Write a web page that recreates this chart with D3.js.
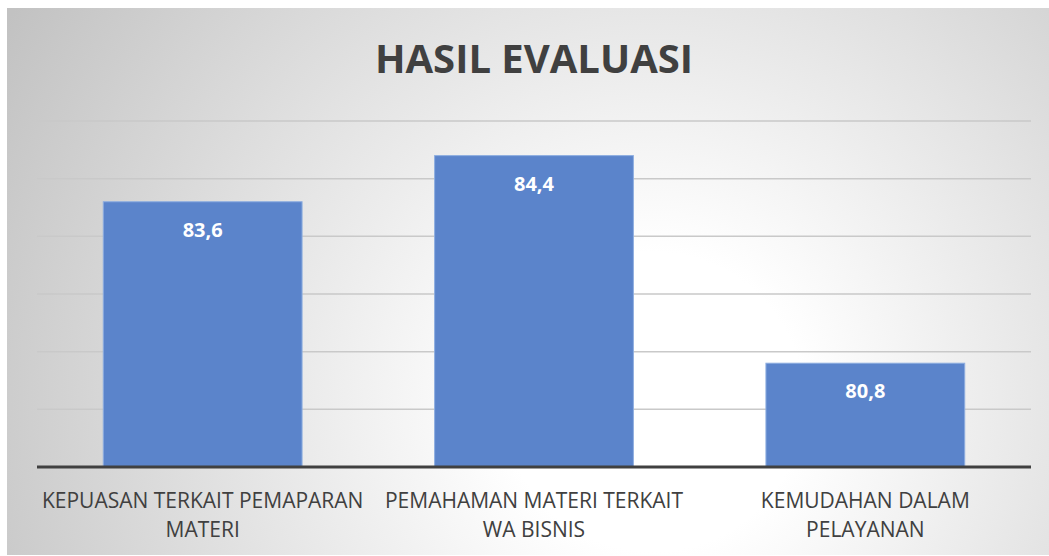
<!DOCTYPE html>
<html>
<head>
<meta charset="utf-8">
<script src="https://cdn.jsdelivr.net/npm/d3@7"></script>
<style>
  body { margin: 0; background: #fff; }
  svg { display: block; font-family: "Open Sans", "Liberation Sans", sans-serif; }
</style>
</head>
<body>
<svg id="chart" width="1049" height="556"></svg>
<script>
// data
const categories = [
  ["KEPUASAN TERKAIT PEMAPARAN", "MATERI"],
  ["PEMAHAMAN MATERI TERKAIT", "WA BISNIS"],
  ["KEMUDAHAN DALAM", "PELAYANAN"]
];
const values = [83.6, 84.4, 80.8];
const valueLabels = ["83,6", "84,4", "80,8"];
const yTicks = [79, 80, 81, 82, 83, 84, 85];

const svg = d3.select("#chart");
const width = 1049;
const height = 556;

// background gradient
const defs = svg.append("defs");
const grad = defs.append("radialGradient")
  .attr("id", "bg")
  .attr("cx", "0.62").attr("cy", "0.72")
  .attr("r", "0.72")
  .attr("gradientTransform", "translate(0.62,0.72) scale(1,1.9) translate(-0.62,-0.72)");
grad.append("stop").attr("offset", "0%").attr("stop-color", "#ffffff");
grad.append("stop").attr("offset", "20%").attr("stop-color", "#ffffff");
grad.append("stop").attr("offset", "100%").attr("stop-color", "#c2c2c2");

svg.append("rect")
  .attr("x", 7).attr("y", 8)
  .attr("width", width - 7).attr("height", 547)
  .attr("fill", "url(#bg)");

const margin = { left: 37, right: 18, top: 121, bottom: 89 };
const x = d3.scaleBand()
  .domain(d3.range(values.length))
  .range([margin.left, width - margin.right])
  .paddingInner(0.4)
  .paddingOuter(0.2);

const y = d3.scaleLinear()
  .domain([79, 85])
  .range([height - margin.bottom, margin.top]);

// gridlines
svg.append("g")
  .selectAll("line")
  .data(yTicks.slice(1))
  .join("line")
  .attr("x1", margin.left)
  .attr("x2", width - margin.right)
  .attr("y1", d => y(d))
  .attr("y2", d => y(d))
  .attr("stroke", "#c9c9c9")
  .attr("stroke-width", 1.5);

// bars
svg.append("g")
  .selectAll("rect")
  .data(values)
  .join("rect")
  .attr("x", (d, i) => x(i))
  .attr("y", d => y(d))
  .attr("width", x.bandwidth())
  .attr("height", d => y(79) - y(d))
  .attr("fill", "#5b84cb")
  .attr("stroke", "#8eaee0")
  .attr("stroke-width", 1);

// baseline
svg.append("line")
  .attr("x1", margin.left)
  .attr("x2", width - margin.right)
  .attr("y1", y(79))
  .attr("y2", y(79))
  .attr("stroke", "#404040")
  .attr("stroke-width", 3);

// value labels
svg.append("g")
  .selectAll("text")
  .data(values)
  .join("text")
  .attr("x", (d, i) => x(i) + x.bandwidth() / 2)
  .attr("y", d => y(d) + 35)
  .attr("text-anchor", "middle")
  .attr("fill", "#ffffff")
  .attr("font-size", 20)
  .attr("font-weight", "bold")
  .text((d, i) => valueLabels[i]);

// category labels
const cat = svg.append("g")
  .selectAll("text")
  .data(categories)
  .join("text")
  .attr("x", (d, i) => x(i) + x.bandwidth() / 2)
  .attr("y", 508)
  .attr("text-anchor", "middle")
  .attr("fill", "#404040")
  .attr("font-size", 21);
cat.selectAll("tspan")
  .data(d => d)
  .join("tspan")
  .attr("x", function () { return this.parentNode.getAttribute("x"); })
  .attr("dy", (d, i) => i === 0 ? 0 : 29)
  .text(d => d);

// title
svg.append("text")
  .attr("x", 534)
  .attr("y", 73)
  .attr("text-anchor", "middle")
  .attr("fill", "#404040")
  .attr("font-size", 40)
  .attr("font-weight", "bold")
  .text("HASIL EVALUASI");
</script>
</body>
</html>
